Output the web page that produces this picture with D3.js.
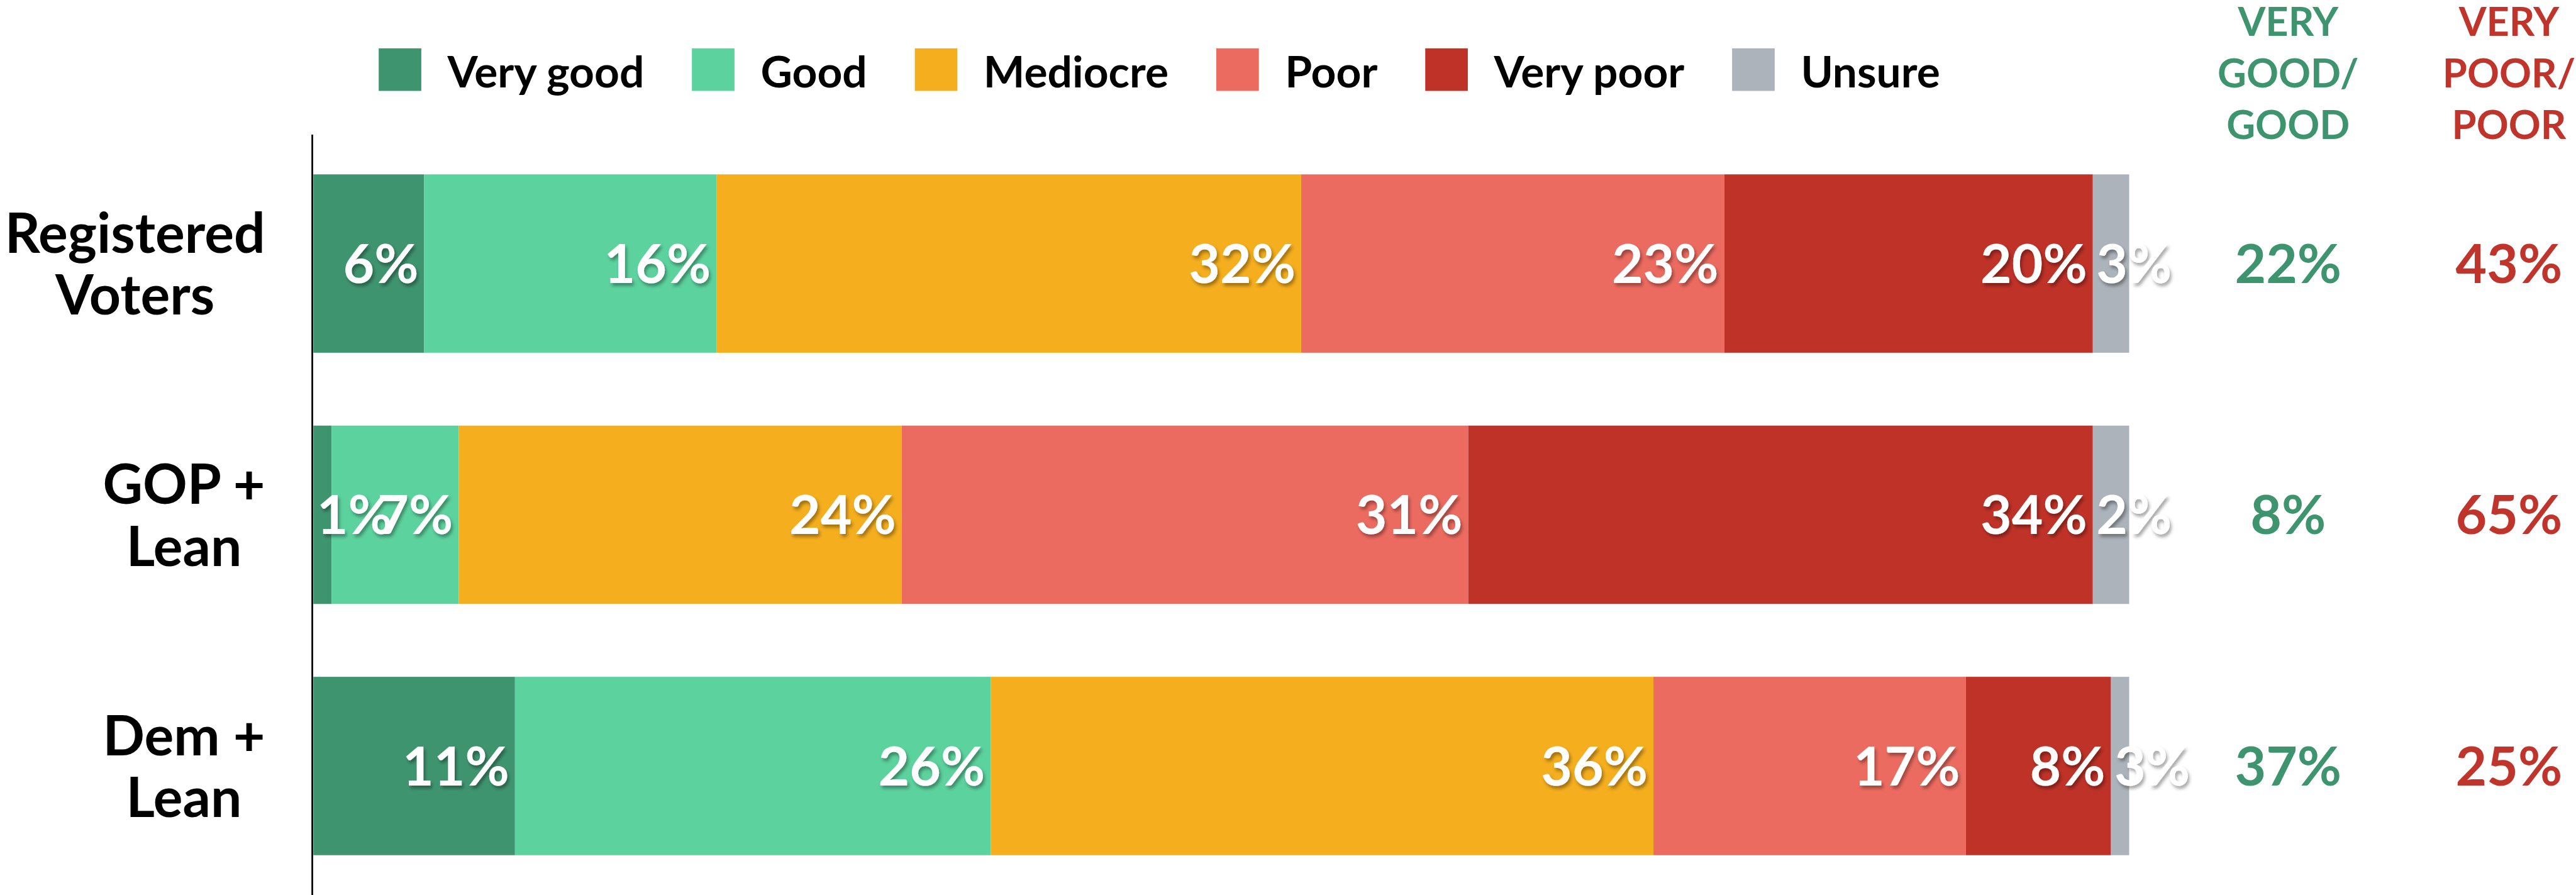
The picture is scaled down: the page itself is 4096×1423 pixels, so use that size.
<!DOCTYPE html>
<html>
<head>
<meta charset="utf-8">
<script src="https://cdn.jsdelivr.net/npm/d3@7"></script>
<style>
  html, body { margin: 0; padding: 0; background: #ffffff; }
  svg { display: block; font-family: Lato, "Open Sans", sans-serif; font-weight: 700; }
</style>
</head>
<body>
<div id="chart"></div>
<script>
// données
const categories = ["Registered Voters", "GOP + Lean", "Dem + Lean"];
const categoryLines = [["Registered", "Voters"], ["GOP +", "Lean"], ["Dem +", "Lean"]];
const answers = ["Very good", "Good", "Mediocre", "Poor", "Very poor", "Unsure"];
const answerColors = ["#3f9470", "#5cd29e", "#f4ae1e", "#ec6b60", "#bf3228", "#adb3ba"];

// largeurs des segments
const veryGood = [6.1, 1.0, 11.1];
const good = [16.1, 7.0, 26.2];
const mediocre = [32.2, 24.4, 36.5];
const poor = [23.3, 31.2, 17.2];
const veryPoor = [20.3, 34.4, 8.0];
const unsure = [2.0, 2.0, 1.0];

// étiquettes affichées dans les barres
const labelVeryGood = [6, 1, 11];
const labelGood = [16, 7, 26];
const labelMediocre = [32, 24, 36];
const labelPoor = [23, 31, 17];
const labelVeryPoor = [20, 34, 8];
const labelUnsure = [3, 2, 3];

// totaux à droite
const totalGood = [22, 8, 37];
const totalPoor = [43, 65, 25];
const headerGood = ["VERY", "GOOD/", "GOOD"];
const headerPoor = ["VERY", "POOR/", "POOR"];

//---------------------------------------------------------------------------------------

// mise en forme des données
const series = [veryGood, good, mediocre, poor, veryPoor, unsure];
const labels = [labelVeryGood, labelGood, labelMediocre, labelPoor, labelVeryPoor, labelUnsure];

const rows = categories.map((cat, i) => {
  const obj = { cat: cat };
  answers.forEach((a, j) => obj[a] = series[j][i]);
  return obj;
});

const stacked = d3.stack().keys(answers)(rows);

//---------------------------------------------------------------------------------------

// Création du canevas SVG (coordonnées de la référence, réduit à 0.902)
const W = 4537, H = 1576;

const svg = d3.select("#chart")
  .append("svg")
  .attr("width", 4096)
  .attr("height", 1423)
  .attr("viewBox", [0, 0, W, H]);

// ombre portée des étiquettes
const filter = svg.append("defs")
  .append("filter")
  .attr("id", "shadow")
  .attr("x", "-20%").attr("y", "-20%")
  .attr("width", "140%").attr("height", "150%");
filter.append("feDropShadow")
  .attr("dx", 3).attr("dy", 5)
  .attr("stdDeviation", 3)
  .attr("flood-color", "#000")
  .attr("flood-opacity", 0.35);

// échelles
const x = d3.scaleLinear().domain([0, 100]).range([552, 3750]);
const y = d3.scaleBand().domain(categories).range([307, 1506]).paddingInner(0.29).paddingOuter(0);
const color = d3.scaleOrdinal().domain(answers).range(answerColors);

//---------------------------------------------------------------------------------------

// Barres
const layers = svg.append("g")
  .selectAll("g")
  .data(stacked)
  .join("g")
  .attr("fill", d => color(d.key));

layers.selectAll("rect")
  .data(d => d)
  .join("rect")
  .attr("x", d => x(d[0]))
  .attr("y", d => y(d.data.cat))
  .attr("width", d => x(d[1]) - x(d[0]))
  .attr("height", y.bandwidth());

// Axe vertical
svg.append("line")
  .attr("x1", 550).attr("x2", 550)
  .attr("y1", 237).attr("y2", H)
  .attr("stroke", "#000")
  .attr("stroke-width", 3);

//---------------------------------------------------------------------------------------

// Étiquettes des barres
const gLabels = svg.append("g")
  .attr("font-size", 95)
  .attr("fill", "#ffffff")
  .attr("filter", "url(#shadow)");

stacked.forEach((layer, j) => {
  layer.forEach((d, i) => {
    const cy = y(d.data.cat) + y.bandwidth() / 2;
    const t = gLabels.append("text")
      .attr("y", cy)
      .attr("dy", "0.36em")
      .text(labels[j][i] + "%");
    const w = t.node().getComputedTextLength();
    const x0 = x(d[0]), x1 = x(d[1]);
    if (answers[j] === "Unsure" || w > x1 - x0 - 16) {
      t.attr("x", x0 + 6).attr("text-anchor", "start");
    } else {
      t.attr("x", x1 - 10).attr("text-anchor", "end");
    }
  });
});

//---------------------------------------------------------------------------------------

// Libellés des catégories (bloc aligné à droite, lignes centrées)
const gCat = svg.append("g")
  .attr("font-size", 97)
  .attr("fill", "#000");

categories.forEach((cat, i) => {
  const cy = y(cat) + y.bandwidth() / 2;
  const txt = gCat.append("text").attr("text-anchor", "middle");
  const spans = categoryLines[i].map((l, k) => txt.append("tspan")
    .attr("y", cy - 19 + k * 109)
    .text(l));
  const maxW = d3.max(spans, s => s.node().getComputedTextLength());
  spans.forEach(s => s.attr("x", 467 - maxW / 2));
});

//---------------------------------------------------------------------------------------

// Colonnes des totaux
const columns = [
  { cx: 4030, head: headerGood, vals: totalGood, col: "#3f9470" },
  { cx: 4419, head: headerPoor, vals: totalPoor, col: "#c0352b" }
];

columns.forEach(c => {
  svg.append("text")
    .attr("text-anchor", "middle")
    .attr("font-size", 70)
    .attr("fill", c.col)
    .selectAll("tspan")
    .data(c.head)
    .join("tspan")
    .attr("x", c.cx)
    .attr("y", (d, k) => 63 + k * 91)
    .text(d => d);

  svg.append("g")
    .selectAll("text")
    .data(c.vals)
    .join("text")
    .attr("x", c.cx)
    .attr("y", (d, i) => y(categories[i]) + y.bandwidth() / 2)
    .attr("dy", "0.36em")
    .attr("text-anchor", "middle")
    .attr("font-size", 95)
    .attr("fill", c.col)
    .text(d => d + "%");
});

//---------------------------------------------------------------------------------------

// Légende
const legend = svg.append("g").attr("font-size", 77);
let lx = 667;
answers.forEach(a => {
  legend.append("rect")
    .attr("x", lx).attr("y", 85)
    .attr("width", 75).attr("height", 75)
    .attr("fill", color(a));
  const t = legend.append("text")
    .attr("x", lx + 121)
    .attr("y", 154)
    .attr("fill", "#000")
    .text(a);
  lx += 121 + t.node().getComputedTextLength() + 84;
});
</script>
</body>
</html>
